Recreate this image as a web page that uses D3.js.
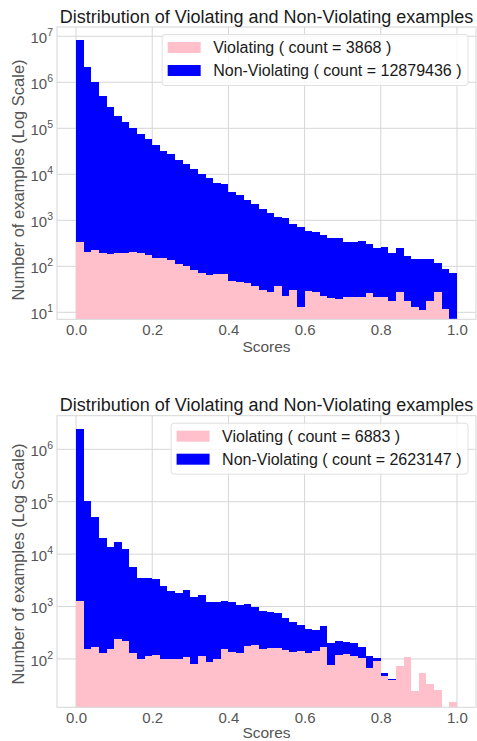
<!DOCTYPE html>
<html>
<head>
<meta charset="utf-8">
<script src="https://cdn.jsdelivr.net/npm/d3@7"></script>
<style>
	body { margin: 0; background: #fff; }
	svg { display: block; font-family: 'Liberation Sans', Arial, sans-serif; }
</style>
</head>
<body>
<svg id="chart" width="477" height="741"></svg>
<script>
const TITLE = 'Distribution of Violating and Non-Violating examples';
const X_LABEL = 'Scores';
const Y_LABEL = 'Number of examples (Log Scale)';
const BIN_WIDTH = 0.02;
const X_TICKS = [0, 0.2, 0.4, 0.6, 0.8, 1.0];

// first chart: 50 bins of 0.02, stacked (violating at the bottom)
const TOP_VIOLATING = [
	343, 201, 226, 198, 185, 198, 192, 205, 198, 173,
	154, 154, 137, 112, 103, 83, 70, 66, 67, 67,
	48, 46, 43, 37, 30, 27, 38, 23, 30, 13,
	29, 27, 23, 20, 19, 22, 21, 21, 26, 22,
	21, 18, 27, 18, 13, 11, 18, 28, 12, 0
];
const TOP_NON_VIOLATING = [
	8200000, 2120000, 1000000, 504000, 286000, 182000, 137000, 103000, 76000, 58000,
	43000, 32600, 27000, 20000, 16700, 12800, 9900, 8100, 6500, 6000,
	4050, 3450, 2760, 2260, 1700, 1390, 1120, 1080, 790, 713,
	556, 521, 449, 387, 387, 316, 317, 328, 284, 232,
	246, 174, 219, 151, 131, 131, 126, 88, 74, 70
];
const TOP_COUNTS = [3868, 12879436];
const TOP_Y_TICKS = [1e1, 1e2, 1e3, 1e4, 1e5, 1e6, 1e7];

// second chart
const BOTTOM_VIOLATING = [
	1280, 155, 172, 128, 153, 244, 224, 128, 99, 116,
	119, 99, 99, 99, 108, 81, 114, 86, 102, 155,
	138, 132, 177, 182, 155, 165, 160, 149, 134, 144,
	128, 144, 172, 77, 119, 123, 114, 106, 66, 92,
	48, 39, 73, 111, 24, 53, 34, 26, 0, 15
];
const BOTTOM_NON_VIOLATING = [
	2418700, 101800, 51800, 20270, 13350, 16660, 12480, 5470, 3460, 3440,
	3280, 2370, 1900, 1740, 1930, 1420, 1530, 1150, 1100, 1105,
	1062, 928, 943, 813, 658, 613, 585, 449, 381, 296,
	241, 213, 254, 123, 104, 85, 91, 63, 50, 14,
	5, 3, 0, 0, 0, 0, 0, 0, 0, 0
];
const BOTTOM_COUNTS = [6883, 2623147];
const BOTTOM_Y_TICKS = [1e2, 1e3, 1e4, 1e5, 1e6];

const COLOR_VIOL = '#ffc0cb';
const COLOR_NON = '#0000ff';
const GRID = '#d6d6d6';
const LEFT = 57;
const RIGHT = 476;

const $svg = d3.select('#chart');

function drawChart({ id, top, bottom, yMin, yMax, violating, nonViolating, yTicks, counts, yLabelY, xLabelDy }) {
	const $g = $svg.append('g').attr('class', `chart-${id}`);
	const x = d3.scaleLinear().domain([-0.05, 1.05]).range([LEFT, RIGHT]);
	const y = d3.scaleLog().domain([yMin, yMax]).range([bottom, top]);
	const px = v => Math.round(x(v));
	const py = v => Math.round(y(v));
	const yBottom = Math.round(bottom);

	$g.append('clipPath')
		.attr('id', `clip-${id}`)
		.append('rect')
		.attr('x', LEFT)
		.attr('y', top)
		.attr('width', RIGHT - LEFT)
		.attr('height', bottom - top);

	// grid
	const $grid = $g.append('g').attr('class', 'grid');
	$grid.selectAll('.gx')
		.data(X_TICKS)
		.join('line')
		.attr('x1', d => x(d))
		.attr('x2', d => x(d))
		.attr('y1', top)
		.attr('y2', bottom);
	$grid.selectAll('.gy')
		.data(yTicks)
		.join('line')
		.attr('class', 'gy')
		.attr('x1', LEFT)
		.attr('x2', RIGHT)
		.attr('y1', d => y(d))
		.attr('y2', d => y(d));
	$grid.selectAll('line').attr('stroke', GRID).attr('stroke-width', 1);

	// bars, snapped to whole pixels so neighbours do not leave seams
	const bins = violating.map((v, i) => ({
		x0: i * BIN_WIDTH,
		x1: (i + 1) * BIN_WIDTH,
		viol: v,
		non: nonViolating[i]
	}));
	const $bars = $g.append('g')
		.attr('clip-path', `url(#clip-${id})`)
		.attr('shape-rendering', 'crispEdges');
	$bars.selectAll('.non')
		.data(bins.filter(d => d.non > 0))
		.join('rect')
		.attr('class', 'non')
		.attr('x', d => px(d.x0))
		.attr('width', d => px(d.x1) - px(d.x0))
		.attr('y', d => py(d.viol + d.non))
		.attr('height', d => (d.viol > 0 ? py(d.viol) : yBottom) - py(d.viol + d.non))
		.attr('fill', COLOR_NON);
	$bars.selectAll('.viol')
		.data(bins.filter(d => d.viol > 0))
		.join('rect')
		.attr('class', 'viol')
		.attr('x', d => px(d.x0))
		.attr('width', d => px(d.x1) - px(d.x0))
		.attr('y', d => py(d.viol))
		.attr('height', d => yBottom - py(d.viol))
		.attr('fill', COLOR_VIOL);

	// frame
	$g.append('rect')
		.attr('x', LEFT)
		.attr('y', top)
		.attr('width', RIGHT - LEFT)
		.attr('height', bottom - top)
		.attr('fill', 'none')
		.attr('stroke', GRID)
		.attr('stroke-width', 1);

	// x axis
	const $xAxis = $g.append('g')
		.attr('transform', `translate(0,${bottom})`)
		.call(d3.axisBottom(x).tickValues(X_TICKS).tickFormat(d3.format('.1f')).tickSize(0).tickPadding(0));
	$xAxis.select('.domain').remove();
	$xAxis.selectAll('text')
		.attr('dy', null)
		.attr('y', 15.7)
		.attr('fill', '#555')
		.attr('font-size', 15)
		.attr('font-family', null);

	// y axis, 10^n labels
	const $yAxis = $g.append('g')
		.attr('transform', `translate(${LEFT},0)`)
		.call(d3.axisLeft(y).tickValues(yTicks).tickFormat('').tickSize(0));
	$yAxis.select('.domain').remove();
	$yAxis.selectAll('.tick text').remove();
	$yAxis.selectAll('.tick')
		.append('text')
		.attr('x', -4)
		.attr('y', 6.4)
		.attr('text-anchor', 'end')
		.attr('fill', '#555')
		.attr('font-size', 15)
		.each(function (d) {
			const $t = d3.select(this);
			$t.append('tspan').text('10');
			$t.append('tspan')
				.attr('dy', -7)
				.attr('font-size', 10.5)
				.text(Math.round(Math.log10(d)));
		});

	$g.append('text')
		.attr('x', (LEFT + RIGHT) / 2)
		.attr('y', bottom + xLabelDy)
		.attr('text-anchor', 'middle')
		.attr('fill', '#555')
		.attr('font-size', 15.5)
		.text(X_LABEL);

	$g.append('text')
		.attr('transform', `translate(23.5,${yLabelY}) rotate(-90)`)
		.attr('text-anchor', 'middle')
		.attr('fill', '#555')
		.attr('font-size', 16.5)
		.text(Y_LABEL);

	$g.append('text')
		.attr('x', (LEFT + RIGHT) / 2)
		.attr('y', top - 4.5)
		.attr('text-anchor', 'middle')
		.attr('fill', '#1a1a1a')
		.attr('font-size', 18)
		.text(TITLE);

	// legend, anchored upper right
	const labels = [
		`Violating ( count = ${counts[0]} )`,
		`Non-Violating ( count = ${counts[1]} )`
	];
	const $legend = $g.append('g');
	const $box = $legend.append('rect');
	const $texts = $legend.selectAll('text')
		.data(labels)
		.join('text')
		.attr('font-size', 16)
		.attr('fill', '#1a1a1a')
		.text(d => d);
	const textW = d3.max($texts.nodes(), n => n.getComputedTextLength());
	const boxRight = RIGHT - 8;
	const boxLeft = boxRight - 6.5 - textW - 51;
	const boxTop = top + 7.5;
	$box.attr('x', boxLeft)
		.attr('y', boxTop)
		.attr('width', boxRight - boxLeft)
		.attr('height', 51)
		.attr('rx', 3)
		.attr('fill', '#fff')
		.attr('fill-opacity', 0.8)
		.attr('stroke', '#e0e0e0')
		.attr('stroke-width', 1);
	$texts.attr('x', boxLeft + 51)
		.attr('y', (d, i) => boxTop + 18.5 + i * 23);
	$legend.selectAll('.swatch')
		.data([COLOR_VIOL, COLOR_NON])
		.join('rect')
		.attr('class', 'swatch')
		.attr('x', boxLeft + 5.5)
		.attr('y', (d, i) => boxTop + 7.5 + i * 23)
		.attr('width', 33)
		.attr('height', 11)
		.attr('fill', d => d);
}

drawChart({
	id: 'top',
	top: 27,
	bottom: 319.3,
	yMin: Math.pow(10, 0.848),
	yMax: Math.pow(10, 7.202),
	violating: TOP_VIOLATING,
	nonViolating: TOP_NON_VIOLATING,
	yTicks: TOP_Y_TICKS,
	counts: TOP_COUNTS,
	yLabelY: 180,
	xLabelDy: 32.4
});

drawChart({
	id: 'bottom',
	top: 415.7,
	bottom: 707.3,
	yMin: Math.pow(10, 1.078),
	yMax: Math.pow(10, 6.641),
	violating: BOTTOM_VIOLATING,
	nonViolating: BOTTOM_NON_VIOLATING,
	yTicks: BOTTOM_Y_TICKS,
	counts: BOTTOM_COUNTS,
	yLabelY: 564,
	xLabelDy: 31
});
</script>
</body>
</html>
